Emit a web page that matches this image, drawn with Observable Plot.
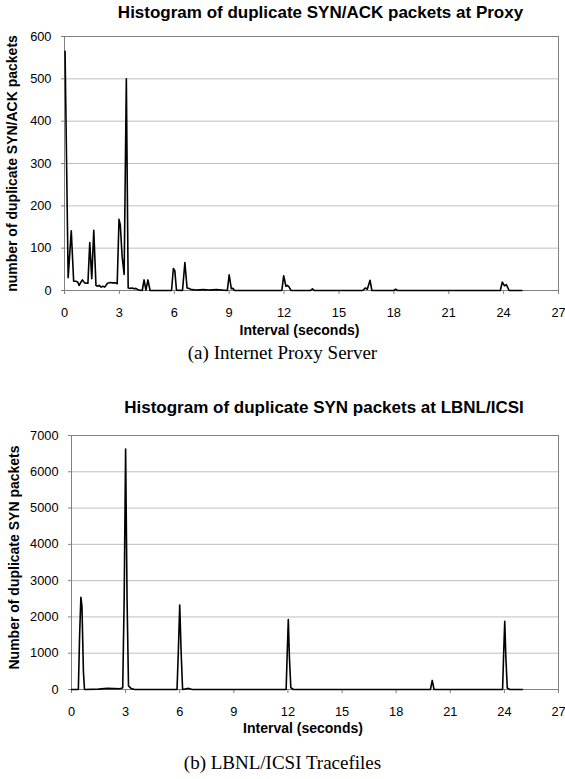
<!DOCTYPE html>
<html><head><meta charset="utf-8">
<script src="https://cdn.jsdelivr.net/npm/d3@7"></script>
<script src="https://cdn.jsdelivr.net/npm/@observablehq/plot@0.6"></script>
<style>
body{margin:0;background:#fff;}
#wrap{position:relative;width:565px;height:779px;overflow:hidden;}
#wrap svg{position:absolute;left:0;overflow:visible;}
.cap{position:absolute;left:0;width:565px;text-align:center;font-family:"Liberation Serif",serif;font-size:19px;line-height:24px;color:#000;}
</style></head><body><div id="wrap"></div>
<script>
// (a) Internet Proxy Server: duplicate SYN/ACK packets
const proxyInterval = [0.03,0.2,0.37,0.5,0.62,0.72,0.8,0.9,0.98,1.1,1.28,1.38,1.49,1.6,1.72,1.8,1.9,2.0,2.1,2.2,2.35,2.5,2.65,2.8,2.88,2.98,3.05,3.15,3.26,3.38,3.48,3.6,3.7,3.8,3.9,4.05,4.25,4.35,4.45,4.56,4.68,5.85,5.95,6.03,6.12,6.45,6.58,6.7,6.8,6.95,7.2,7.6,7.9,8.3,8.9,9.0,9.12,9.2,9.3,11.88,11.98,12.1,12.18,12.28,12.38,13.45,13.55,13.65,16.3,16.45,16.55,16.7,16.8,18.0,18.1,18.2,23.82,23.93,24.05,24.15,24.3,25.0];
const proxyCount    = [565,30,141,22,22,20,12,20,25,18,17,113,28,142,12,10,12,8,10,8,17,19,18,18,16,168,155,80,38,500,6,5,6,4,5,1,0,25,1,25,0,0,52,47,1,0,66,6,5,2,1,2,1,2,0,37,4,5,0,0,35,10,12,8,0,0,4,0,0,6,3,24,0,0,3,0,0,20,11,14,0,0];

// (b) LBNL/ICSI Tracefiles: duplicate SYN packets
const lbnlInterval = [0,0.38,0.45,0.52,0.58,0.66,0.72,1.5,2.0,2.7,2.84,2.92,3.0,3.08,3.16,3.3,3.5,5.85,5.92,6.0,6.08,6.16,6.5,6.7,11.9,11.96,12.02,12.08,12.16,12.3,19.9,20.0,20.1,23.9,23.96,24.02,24.08,24.16,24.3,25.0];
const lbnlCount    = [0,0,1500,2540,2300,500,0,10,30,20,50,2500,6630,2500,100,30,0,0,1000,2330,1000,0,30,0,0,1000,1930,900,50,0,0,250,0,0,1000,1880,900,40,0,0];

const xTicks = [0,3,6,9,12,15,18,21,24,27];
const proxyYTicks = [0,100,200,300,400,500,600];
const lbnlYTicks = [0,1000,2000,3000,4000,5000,6000,7000];

const proxyTitle = "Histogram of duplicate SYN/ACK packets at Proxy";
const lbnlTitle = "Histogram of duplicate SYN packets at LBNL/ICSI";
const proxyYLabel = "number of duplicate SYN/ACK packets";
const lbnlYLabel = "Number of duplicate SYN packets";
const xLabel = "Interval (seconds)";
const captions = ["(a) Internet Proxy Server", "(b) LBNL/ICSI Tracefiles"];

function makeChart(o) {
  const data = o.xs.map((x, i) => ({x, y: o.ys[i]}));
  return Plot.plot({
    width: 565,
    height: o.height,
    marginTop: o.marginTop,
    marginBottom: o.marginBottom,
    marginLeft: o.marginLeft,
    marginRight: 7,
    style: {fontFamily: '"Liberation Sans", Arial, sans-serif', fontSize: "12.8px", color: "#000", background: "#fff", overflow: "visible"},
    x: {domain: [0, 27]},
    y: {domain: [0, o.yTicks[o.yTicks.length - 1]]},
    marks: [
      Plot.gridY(o.yTicks, {stroke: "#bfbfbf", strokeOpacity: 1}),
      Plot.frame({stroke: "#808080"}),
      Plot.axisY(o.yTicks, {tickSize: 3, tickPadding: 10, label: null, stroke: "#808080", tickFormat: d => String(d)}),
      Plot.axisX(xTicks, {tickSize: 4, tickPadding: 13, label: null, stroke: "#808080", tickFormat: d => String(d)}),
      Plot.line(data, {x: "x", y: "y", stroke: "#000", strokeWidth: 1.6}),
      Plot.text([o.title], {frameAnchor: "top", lineAnchor: "middle", dy: o.titleDy, dx: o.titleDx, fontWeight: "bold", fontSize: 17}),
      Plot.text([xLabel], {frameAnchor: "bottom", lineAnchor: "middle", dy: o.xLabelDy, dx: -12, fontWeight: "bold", fontSize: 14}),
      Plot.text([o.yLabel], {frameAnchor: "left", textAnchor: "middle", lineAnchor: "middle", rotate: -90, dx: o.yLabelDx, dy: o.yLabelDyy, fontWeight: "bold", fontSize: 14})
    ]
  });
}

const wrap = document.getElementById("wrap");
const a = makeChart({xs: proxyInterval, ys: proxyCount, yTicks: proxyYTicks, title: proxyTitle, yLabel: proxyYLabel,
  height: 340, marginTop: 36, marginBottom: 50, marginLeft: 64, titleDy: -24, titleDx: 9, xLabelDy: 40, yLabelDx: -52, yLabelDyy: 0});
a.style.top = "0px";
wrap.appendChild(a);
const capA = document.createElement("div"); capA.className = "cap"; capA.style.top = "341px"; capA.textContent = captions[0];
wrap.appendChild(capA);

const b = makeChart({xs: lbnlInterval, ys: lbnlCount, yTicks: lbnlYTicks, title: lbnlTitle, yLabel: lbnlYLabel,
  height: 370, marginTop: 65, marginBottom: 51, marginLeft: 71, titleDy: -28, titleDx: 9, xLabelDy: 39, yLabelDx: -57, yLabelDyy: -5});
b.style.top = "370px";
wrap.appendChild(b);
const capB = document.createElement("div"); capB.className = "cap"; capB.style.top = "751px"; capB.textContent = captions[1];
wrap.appendChild(capB);
</script></body></html>
